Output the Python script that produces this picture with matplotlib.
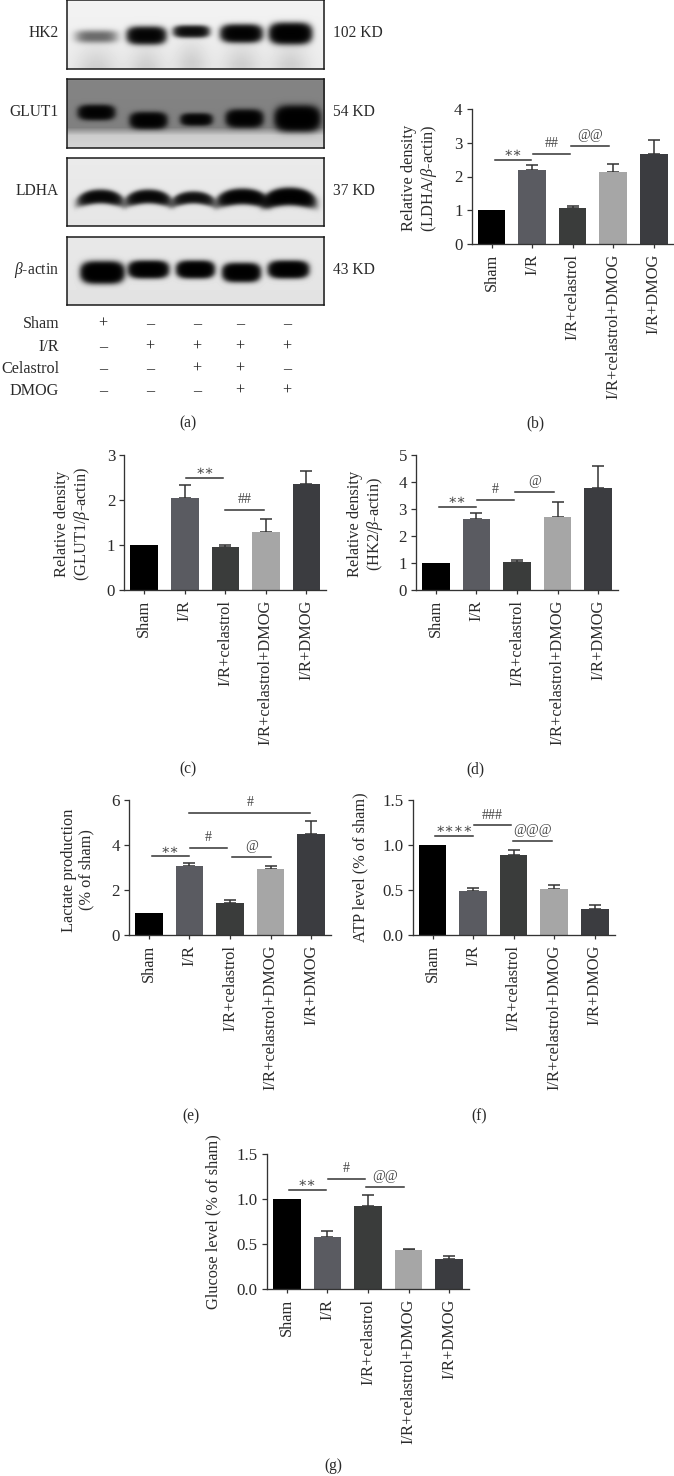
import numpy as np
import matplotlib
matplotlib.use("Agg")
import matplotlib.pyplot as plt

W, H = 674, 1476

groups = ["Sham", "I/R", "I/R+celastrol", "I/R+celastrol+DMOG", "I/R+DMOG"]
bar_colors = ["#000000", "#5a5b61", "#3a3c3b", "#a6a6a6", "#3b3c40"]

# bar heights and top of error bar, one per group (Sham has no error)
ldha_vals = [1.0, 2.20, 1.07, 2.12, 2.67]
ldha_tops = [1.0, 2.35, 1.13, 2.38, 3.07]
glut1_vals = [1.0, 2.04, 0.95, 1.30, 2.35]
glut1_tops = [1.0, 2.33, 1.00, 1.58, 2.65]
hk2_vals = [1.0, 2.63, 1.02, 2.72, 3.77]
hk2_tops = [1.0, 2.85, 1.12, 3.25, 4.60]
lactate_vals = [1.0, 3.08, 1.42, 2.92, 4.48]
lactate_tops = [1.0, 3.20, 1.55, 3.08, 5.07]
atp_vals = [1.0, 0.49, 0.89, 0.51, 0.29]
atp_tops = [1.0, 0.52, 0.95, 0.56, 0.33]
glucose_vals = [1.0, 0.58, 0.92, 0.43, 0.33]
glucose_tops = [1.0, 0.64, 1.05, 0.45, 0.37]

# significance lines: label, from bar, to bar, height
ldha_sig = [("∗∗", 0.08, 0.98, 2.49), ("##", 1.03, 1.93, 2.68), ("@@", 1.97, 2.90, 2.91)]
glut1_sig = [("∗∗", 1.03, 1.94, 2.50), ("##", 2.00, 2.95, 1.785)]
hk2_sig = [("∗∗", 0.07, 0.99, 3.07), ("#", 1.02, 1.93, 3.33), ("@", 1.96, 2.90, 3.63)]
lactate_sig = [("∗∗", 0.07, 0.98, 3.50), ("#", 1.02, 1.93, 3.87), ("@", 2.06, 3.00, 3.47),
               ("#", 1.00, 3.98, 5.42)]
atp_sig = [("∗∗∗∗", 0.06, 0.99, 1.10), ("###", 1.02, 1.93, 1.22), ("@@@", 1.99, 2.95, 1.044)]
glucose_sig = [("∗∗", 0.05, 0.96, 1.104), ("#", 1.01, 1.93, 1.222), ("@@", 1.95, 2.89, 1.133)]

# blot table, band darkness per lane
blot_names = ["HK2", "GLUT1", "LDHA", r"$\beta$-actin"]
blot_sizes = ["102 KD", "54 KD", "37 KD", "43 KD"]
hk2_bands = [0.8, 4.0, 3.0, 4.5, 5.5]
glut1_bands = [4.0, 4.5, 3.5, 4.5, 6.0]
ldha_bands = [3.5, 3.5, 2.8, 4.5, 5.5]
actin_bands = [7.0, 6.0, 6.0, 6.0, 6.0]
row_names = ["Sham", "I/R", "Celastrol", "DMOG"]
row_signs = [["+", "–", "–", "–", "–"],
             ["–", "+", "+", "+", "+"],
             ["–", "–", "+", "+", "–"],
             ["–", "–", "–", "+", "+"]]

plt.rcParams["font.family"] = ["Liberation Serif", "DejaVu Serif"]
plt.rcParams["mathtext.fontset"] = "custom"
plt.rcParams["mathtext.rm"] = "Liberation Serif"
plt.rcParams["mathtext.it"] = "Liberation Serif:italic"
plt.rcParams["text.color"] = "#2a2a2a"

fig = plt.figure(figsize=(W / 100, H / 100), dpi=100)


def px_axes(x0, y0, x1, y1):
    # pixel box, y counted from the top of the image
    return fig.add_axes([x0 / W, 1 - y1 / H, (x1 - x0) / W, (y1 - y0) / H])


def px_text(x, y, s, **kw):
    fig.text(x / W, 1 - y / H, s, **kw)


def bar_panel(axis_x, y_base, ymax, yticks, ticklabels, vals, tops, sig):
    ax = px_axes(axis_x, y_base - 135, axis_x + 202, y_base)
    xs = np.arange(len(groups))
    ax.bar(xs, vals, width=0.68, color=bar_colors, zorder=2)
    up = np.array(tops) - np.array(vals)
    for i in xs[1:]:
        # drawn under the bar so only the upper half shows
        ax.errorbar(i, vals[i], yerr=[[0], [up[i]]], color="#333333", lw=1.1,
                    capsize=4.6, capthick=1.1, zorder=1)
    for label, a, b, y in sig:
        ax.plot([a, b], [y, y], color="#333333", lw=1.1, clip_on=False)
        off = 4.5 if label[0] == "∗" else 7.3
        ax.annotate(label, ((a + b) / 2, y), xytext=(0, off), textcoords="offset points",
                    ha="center", va="center", fontsize=10, color="#444444",
                    annotation_clip=False)
    ax.set_xlim(-0.49, 4.49)
    ax.set_ylim(0, ymax)
    ax.set_xticks(xs)
    ax.set_xticklabels(groups, rotation=90, fontsize=11.8)
    ax.set_yticks(yticks)
    ax.set_yticklabels(ticklabels, fontsize=12.2)
    ax.tick_params(axis="x", length=3.2, width=0.9, pad=4, color="#333333", labelcolor="#2a2a2a")
    ax.tick_params(axis="y", length=3.6, width=0.9, pad=3, color="#333333", labelcolor="#2a2a2a")
    for side in ["top", "right"]:
        ax.spines[side].set_visible(False)
    for side in ["left", "bottom"]:
        ax.spines[side].set_linewidth(0.95)
        ax.spines[side].set_color("#333333")
    return ax


def blot(y0, y1, bands, lanes, band_y, half_w, half_h, bg_pos, bg_val, smile=0.0, smear=0.0):
    ax = px_axes(66.5, y0, 324, y1)
    yy, xx = np.mgrid[0:y1 - y0, 0:258]
    img = np.interp(yy, bg_pos, bg_val)
    dens = np.zeros_like(img, dtype=float)
    for s, lx, by, w, h in zip(bands, lanes, band_y, half_w, half_h):
        dx = (xx - lx) / w
        arch = by + smile * np.clip(dx, -1.3, 1.3) ** 2
        dens += s * np.exp(-dx ** 4 - np.abs((yy - arch) / h) ** 2.4)
        if smear:
            dens += smear * np.exp(-dx ** 2) * np.clip((yy - by) / 30, 0, 1)
    ax.imshow(img * np.exp(-dens), cmap="gray", vmin=0, vmax=1, aspect="auto",
              interpolation="bilinear")
    ax.set_xticks([])
    ax.set_yticks([])
    for sp in ax.spines.values():
        sp.set_linewidth(1.1)
        sp.set_color("#1a1a1a")


blot(0, 69, hk2_bands, [29, 79, 124, 174, 223], [36, 35, 31, 33, 33],
     [20, 17, 16, 18, 18], [6, 7, 5, 7, 8], [0, 69], [0.95, 0.93], smear=0.14)
blot(79, 148, glut1_bands, [29, 81, 129, 177, 230], [33, 41, 40, 39, 39],
     [16, 16, 14, 16, 19], [6, 6.5, 5, 7, 9.5], [0, 48, 56, 69], [0.52, 0.50, 0.80, 0.84])
blot(158, 226, ldha_bands, [33, 81, 126, 175, 222], [38, 38, 39, 38, 38],
     [20, 20, 19, 22, 22], [5.5, 5.5, 5, 6, 6.5], [0, 68], [0.92, 0.90], smile=4)
blot(237, 305, actin_bands, [35, 81, 128, 174, 221], [35, 32, 32, 35, 32],
     [18, 17, 16, 16, 17], [8, 6.5, 6.5, 7, 6.5], [0, 68], [0.91, 0.89])

for name, size, y in zip(blot_names, blot_sizes, [33, 112, 191, 270]):
    px_text(59, y, name, ha="right", va="center", fontsize=11.2)
    px_text(333, y, size, ha="left", va="center", fontsize=11.2)

lane_x = [103, 150, 197, 240, 287]
for name, signs, y in zip(row_names, row_signs, [324, 347, 369, 391]):
    px_text(59, y, name, ha="right", va="center", fontsize=11.6)
    for lx, s in zip(lane_x, signs):
        px_text(lx, y, s, ha="center", va="center", fontsize=11.6)

bar_panel(471.7, 244, 4, [0, 1, 2, 3, 4], ["0", "1", "2", "3", "4"], ldha_vals, ldha_tops, ldha_sig)
bar_panel(124.3, 590, 3, [0, 1, 2, 3], ["0", "1", "2", "3"], glut1_vals, glut1_tops, glut1_sig)
bar_panel(416, 590, 5, [0, 1, 2, 3, 4, 5], ["0", "1", "2", "3", "4", "5"], hk2_vals, hk2_tops, hk2_sig)
bar_panel(129, 935, 6, [0, 2, 4, 6], ["0", "2", "4", "6"], lactate_vals, lactate_tops, lactate_sig)
bar_panel(412.7, 935, 1.5, [0, 0.5, 1, 1.5], ["0.0", "0.5", "1.0", "1.5"], atp_vals, atp_tops, atp_sig)
bar_panel(267, 1289, 1.5, [0, 0.5, 1, 1.5], ["0.0", "0.5", "1.0", "1.5"], glucose_vals, glucose_tops, glucose_sig)

ylab = dict(rotation=90, ha="center", va="center", fontsize=11.8, linespacing=1.1, multialignment="center")
px_text(420, 178, "Relative density\n(LDHA/$\\beta$-actin)", **ylab)
px_text(73, 524, "Relative density\n(GLUT1/$\\beta$-actin)", **ylab)
px_text(366, 524, "Relative density\n(HK2/$\\beta$-actin)", **ylab)
px_text(78, 870, "Lactate production\n(% of sham)", **ylab)
px_text(360, 867, "ATP level (% of sham)", **ylab)
px_text(213, 1222, "Glucose level (% of sham)", **ylab)

for s, x, y in [("(a)", 188, 423), ("(b)", 535, 423), ("(c)", 188, 769), ("(d)", 475, 769),
                ("(e)", 191, 1116), ("(f)", 479, 1116), ("(g)", 333, 1466)]:
    px_text(x, y, s, ha="center", va="center", fontsize=11.2)

fig.savefig("out.png", dpi=100, facecolor="white")
